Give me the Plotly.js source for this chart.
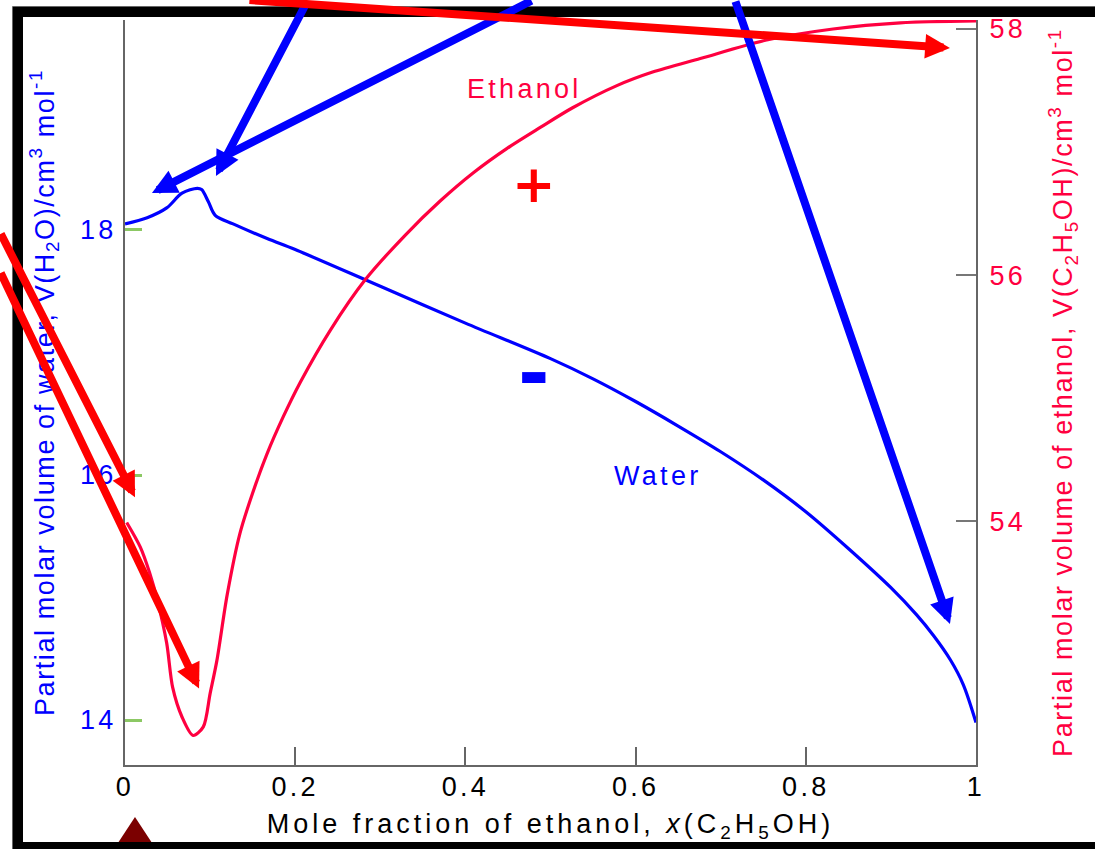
<!DOCTYPE html>
<html>
<head>
<meta charset="utf-8">
<script src="https://cdn.plot.ly/plotly-3.0.1.min.js"></script>
<style>
  html, body { margin: 0; padding: 0; background: #fff; }
  #chart { width: 1095px; height: 849px; }
  .xtick text, .ytick text, .y2tick text, .annotation-text { letter-spacing: 3.3px; }
  .xtitle { letter-spacing: 4px; }
  .ytitle, .y2title { letter-spacing: 1.6px; }
</style>
</head>
<body>
<div id="chart"></div>
<script>
// Mole fraction of ethanol for the water curve
const waterX = [0, 0.026, 0.049, 0.067, 0.085, 0.090, 0.098, 0.106, 0.127, 0.167, 0.2, 0.3, 0.4, 0.5, 0.55, 0.6, 0.65, 0.7, 0.75, 0.8, 0.85, 0.9, 0.93, 0.95, 0.97, 0.985, 1.0];
// Partial molar volume of water (cm3/mol)
const waterV = [18.05, 18.10, 18.18, 18.30, 18.34, 18.33, 18.23, 18.12, 18.05, 17.93, 17.84, 17.54, 17.24, 16.95, 16.785, 16.60, 16.40, 16.19, 15.96, 15.70, 15.40, 15.08, 14.86, 14.69, 14.49, 14.29, 13.98];

// Mole fraction of ethanol for the ethanol curve
const ethanolX = [0.002, 0.018, 0.029, 0.038, 0.049, 0.056, 0.067, 0.080, 0.092, 0.100, 0.108, 0.120, 0.135, 0.150, 0.167, 0.186, 0.206, 0.241, 0.282, 0.330, 0.370, 0.409, 0.449, 0.488, 0.526, 0.578, 0.620, 0.676, 0.754, 0.832, 0.911, 1.0];
// Partial molar volume of ethanol (cm3/mol)
const ethanolV = [53.99, 53.79, 53.58, 53.36, 53.01, 52.65, 52.41, 52.26, 52.33, 52.60, 52.87, 53.40, 53.90, 54.23, 54.55, 54.85, 55.13, 55.55, 55.96, 56.33, 56.60, 56.83, 57.03, 57.20, 57.36, 57.54, 57.65, 57.76, 57.91, 58.00, 58.05, 58.065];

const xTitle = 'Mole fraction of ethanol, <i>x</i>(C<sub>2</sub>H<sub>5</sub>OH)';
const yTitle = 'Partial molar volume of water, V(H<sub>2</sub>O)/cm<sup>3</sup> mol<sup>-1</sup>';
const y2Title = 'Partial molar volume of ethanol, V(C<sub>2</sub>H<sub>5</sub>OH)/cm<sup>3</sup> mol<sup>-1</sup>';

const BLUE = '#0000ff';
const PINK = '#ff0040';
const RED = '#ff0000';
const FONT = 'Liberation Sans, Arial, sans-serif';

const traces = [
  { x: waterX, y: waterV, yaxis: 'y', type: 'scatter', mode: 'lines', name: 'Water',
    line: { color: BLUE, width: 3.2, shape: 'spline', smoothing: 0.9 }, hoverinfo: 'skip' },
  { x: ethanolX, y: ethanolV, yaxis: 'y2', type: 'scatter', mode: 'lines', name: 'Ethanol',
    line: { color: PINK, width: 3.2, shape: 'spline', smoothing: 0.8 }, hoverinfo: 'skip' }
];

function arrow(x, y, yref, ax, ay, color) {
  return { x: x, y: y, xref: 'x', yref: yref, ax: ax, ay: ay, axref: 'pixel', ayref: 'pixel',
    text: '', showarrow: true, arrowhead: 2, arrowsize: 0.62, arrowwidth: 8, arrowcolor: color, standoff: 0 };
}

const annotations = [
  { x: 0.47, y: 57.512, xref: 'x', yref: 'y2', text: 'Ethanol', showarrow: false,
    font: { family: FONT, size: 27, color: PINK } },
  { x: 0.6263, y: 15.992, xref: 'x', yref: 'y', text: 'Water', showarrow: false,
    font: { family: FONT, size: 27, color: BLUE } },
  { x: 0.4818, y: 56.74, xref: 'x', yref: 'y2', text: '<b>+</b>', showarrow: false,
    font: { family: 'DejaVu Sans', size: 52, color: RED } },
  { x: 0.4818, y: 16.83, xref: 'x', yref: 'y', text: '<b>-</b>', showarrow: false,
    font: { family: 'DejaVu Sans', size: 76, color: BLUE } },
  arrow(0.1069, 18.441, 'y', 92, -178, BLUE),
  arrow(0.0317, 18.302, 'y', 381, -195, BLUE),
  arrow(0.9694, 14.784, 'y', -215, -628, BLUE),
  arrow(0.9694, 57.846, 'y2', -702, -49, RED),
  arrow(0.01175, 54.195, 'y2', -137, -265, RED),
  arrow(0.0870, 52.642, 'y2', -201, -417, RED)
];

const shapes = [
  { type: 'path', xref: 'paper', yref: 'paper', layer: 'above',
    path: 'M 0.01175,-0.06980 L -0.01293,-0.11275 L 0.03643,-0.11275 Z',
    fillcolor: '#7b0000', line: { width: 0 } },
  { type: 'path', xref: 'paper', yref: 'paper', layer: 'above',
    path: 'M -0.13220,-0.1168 L -0.13220,1.01812 L 1.16921,1.01812',
    line: { color: '#666666', width: 1 } },
  { type: 'path', xref: 'paper', yref: 'paper', layer: 'above',
    path: 'M 1.16921,-0.11007 L -0.12573,-0.11007 L -0.12573,1.01074 L 1.16921,1.01074',
    line: { color: '#000000', width: 10 } }
];

const layout = {
  width: 1095, height: 849,
  margin: { l: 125, r: 119, t: 20, b: 84 },
  paper_bgcolor: '#ffffff', plot_bgcolor: '#ffffff',
  font: { family: FONT, size: 27, color: '#000' },
  showlegend: false,
  xaxis: {
    range: [0, 1], tick0: 0, dtick: 0.2, ticks: 'inside', ticklen: 18, tickwidth: 2, tickcolor: '#666',
    showline: true, linecolor: '#666', linewidth: 2, showgrid: false, zeroline: false,
    tickfont: { family: FONT, size: 27, color: '#000' }, ticklabelstandoff: -3,
    title: { text: xTitle, font: { family: FONT, size: 27, color: '#000' }, standoff: 13 }
  },
  yaxis: {
    range: [13.633, 19.714], tick0: 14, dtick: 2, ticks: 'inside', ticklen: 17, tickwidth: 3, tickcolor: '#8cc864',
    showline: true, linecolor: '#666', linewidth: 2, showgrid: false, zeroline: false,
    tickfont: { family: FONT, size: 27, color: BLUE }, ticklabelstandoff: 1,
    title: { text: yTitle, font: { family: FONT, size: 27, color: BLUE }, standoff: 18 }
  },
  yaxis2: {
    overlaying: 'y', side: 'right', anchor: 'x',
    range: [52.02, 58.073], tick0: 54, dtick: 2, ticks: 'inside', ticklen: 20, tickwidth: 2, tickcolor: '#777',
    showline: true, linecolor: '#666', linewidth: 2, showgrid: false, zeroline: false,
    tickfont: { family: FONT, size: 27, color: PINK }, ticklabelstandoff: 6,
    title: { text: y2Title, font: { family: FONT, size: 27, color: PINK }, standoff: 28 }
  },
  annotations: annotations,
  shapes: shapes
};

Plotly.newPlot('chart', traces, layout, { staticPlot: true, displayModeBar: false });
</script>
</body>
</html>
